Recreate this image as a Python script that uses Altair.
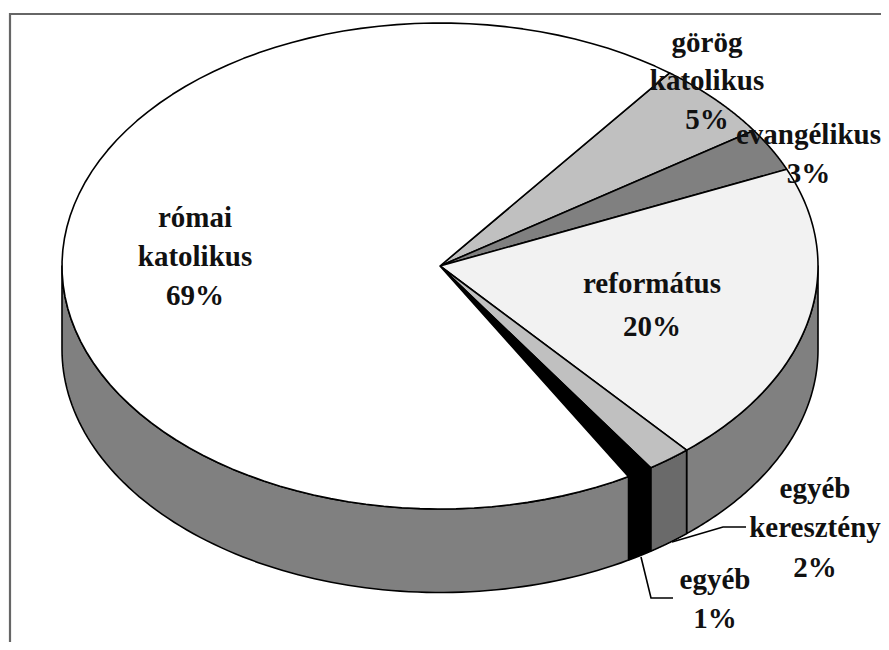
import math
import altair as alt

# ---- data ----
categories = ["görög katolikus", "evangélikus", "református", "egyéb keresztény", "egyéb", "római katolikus"]
shares = [5.2, 2.9, 20.2, 1.9, 1.1, 68.7]          # drawn size of each slice, %
labels = ["5%", "3%", "20%", "2%", "1%", "69%"]
label_lines = [["görög", "katolikus"], ["evangélikus"], ["református"],
               ["egyéb", "keresztény"], ["egyéb"], ["római", "katolikus"]]

# ---- styles / layout ----
top_fill = ["#c0c0c0", "#808080", "#f2f2f2", "#c0c0c0", "#000000", "#ffffff"]
side_fill = ["#c0c0c0", "#808080", "#808080", "#6a6a6a", "#000000", "#808080"]
START = 52.6
CX, CY, RX, RY, DEPTH = 440.0, 266.0, 378.0, 243.0, 83.5
TILT = RY / RX
THICK = DEPTH / RX
# block centre in page pixels and line spacing
blocks = [(707, 81, 38.5), (808.5, 154, 39), (652, 305, 43),
          (815, 528, 39.5), (715, 599, 39), (195, 257, 39)]
TEXT_DY = 0


def page(x, y):
    return [(x - CX) / RX, (CY - y) / RX]


def rim(a, drop=0.0):
    r = math.radians(a)
    return [math.cos(r), TILT * math.sin(r) - drop]


def arc(a0, a1, n=90):
    return [a0 + (a1 - a0) * i / n for i in range(n + 1)]


def feat(coords, fill, kind="Polygon"):
    g = {"type": "Polygon", "coordinates": [coords]} if kind == "Polygon" else {"type": "LineString", "coordinates": coords}
    return {"type": "Feature", "geometry": g, "properties": {"fill": fill}}


sides, tops = [], []
a = START
for s, tf, sf in zip(shares, top_fill, side_fill):
    b = a - s * 3.6
    tops.append(feat([[0, 0]] + [rim(t) for t in arc(a, b)] + [[0, 0]], tf))
    # visible wall: the part of the slice on the front half of the rim
    for p, q in [(a, b), (a - 360, b - 360)]:
        u, v = min(p, 0), max(q, -180)
        if u > v:
            ts = arc(u, v)
            sides.append(feat([rim(t) for t in ts] + [rim(t, THICK) for t in reversed(ts)] + [rim(ts[0])], sf))
    a = b

frame = [feat([page(10, 652), page(10, 14), page(892, 14)], "none", "LineString")]
leaders = [
    feat([page(672, 542), page(723, 527), page(746, 527)], "none", "LineString"),
    feat([page(641, 557), page(651, 598), page(673, 598)], "none", "LineString"),
]

text_rows = []
for lines, pct, (bx, by, lh) in zip(label_lines, labels, blocks):
    all_lines = lines + [pct]
    for i, t in enumerate(all_lines):
        lon, lat = page(bx, by + (i - (len(all_lines) - 1) / 2) * lh + TEXT_DY)
        text_rows.append({"t": t, "lon": lon, "lat": lat})

proj = alt.Projection(type="identity", reflectY=True, scale=RX, translate=[CX - 8, CY - 8])


def layer_of(features, **kw):
    return alt.Chart(alt.Data(values=features)).mark_geoshape(strokeJoin="round", **kw).encode(
        fill=alt.Fill("properties.fill:N", scale=None, legend=None)
    )


line_layer = lambda f, w, col: alt.Chart(alt.Data(values=f)).mark_geoshape(filled=False, stroke=col, strokeWidth=w)

texts = alt.Chart(alt.Data(values=text_rows)).mark_text(
    font="Liberation Serif", fontWeight="bold", fontSize=29, color="#111111", baseline="middle", align="center"
).encode(longitude="lon:Q", latitude="lat:Q", text="t:N")

chart = alt.layer(
    line_layer(frame, 2.2, "#666666"),
    layer_of(sides, stroke="#000000", strokeWidth=1.6),
    layer_of(tops, stroke="#000000", strokeWidth=1.6),
    line_layer(leaders, 1.6, "#000000"),
    texts,
).properties(
    width=873, height=634, projection=proj, padding=0, background="#ffffff"
).configure_view(stroke=None)

chart.save("out.html", embed_options={"renderer": "svg", "actions": False})
